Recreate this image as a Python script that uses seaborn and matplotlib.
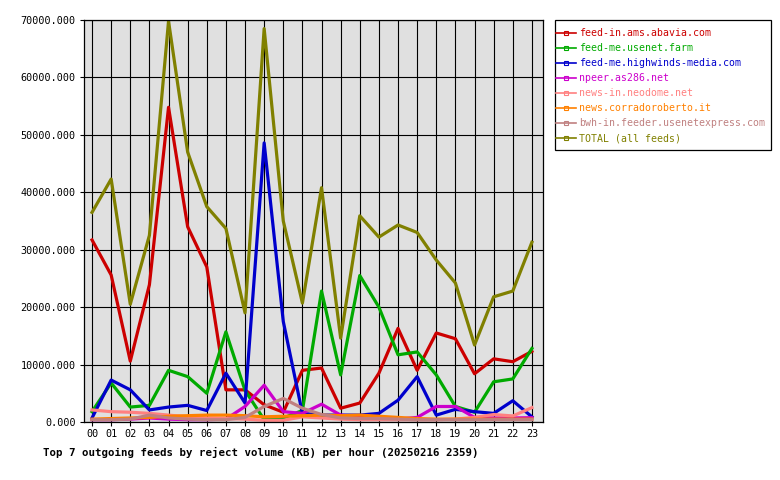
import matplotlib
matplotlib.use("Agg")
import matplotlib.pyplot as plt
from matplotlib.lines import Line2D
from matplotlib.patches import Rectangle
import pandas as pd
import seaborn as sns

# hourly reject volume (KB) per outgoing feed
hours = ["%02d" % h for h in range(24)]
feeds = ["feed-in.ams.abavia.com", "feed-me.usenet.farm", "feed-me.highwinds-media.com",
         "npeer.as286.net", "news-in.neodome.net", "news.corradoroberto.it",
         "bwh-in.feeder.usenetexpress.com", "TOTAL (all feeds)"]
colors = ["#cc0000", "#00aa00", "#0000cc", "#cc00cc", "#ff8080", "#ff8000", "#c08080", "#808000"]

abavia = [31700, 25600, 10600, 23900, 54800, 34000, 27000, 5600, 5600, 3000, 1700, 9000,
          9400, 2400, 3300, 8500, 16300, 9000, 15500, 14500, 8400, 11000, 10500, 12300]
usenet_farm = [1800, 6800, 2600, 2900, 9000, 7900, 5000, 15700, 5500, 400, 700, 2000,
               22800, 8200, 25500, 20000, 11700, 12200, 8200, 2700, 1700, 7000, 7500, 12800]
highwinds = [700, 7300, 5600, 2100, 2600, 2900, 2000, 8500, 3300, 48600, 17500, 1500,
             1200, 1200, 1200, 1500, 3800, 7900, 1200, 2200, 1800, 1500, 3700, 900]
npeer = [400, 400, 500, 700, 500, 400, 400, 500, 2700, 6400, 1800, 1500,
         3100, 1200, 900, 600, 500, 800, 2700, 2700, 800, 700, 700, 750]
neodome = [2100, 1800, 1700, 1500, 1200, 900, 700, 600, 500, 300, 300, 900,
           700, 500, 400, 400, 400, 400, 400, 500, 800, 1300, 1050, 2500]
corradoroberto = [500, 600, 700, 800, 1000, 1100, 1200, 1200, 1100, 900, 1000, 1100,
                  1200, 1100, 1200, 1000, 800, 600, 500, 500, 500, 500, 500, 500]
usenetexpress = [400, 400, 500, 1200, 700, 500, 400, 400, 800, 2700, 4100, 2400,
                 1300, 700, 600, 600, 500, 400, 400, 400, 400, 400, 400, 400]
total = [36500, 42300, 20500, 32500, 69800, 47000, 37500, 33700, 19000, 68500, 35000, 20700,
         40800, 14600, 35900, 32200, 34300, 33000, 28200, 24200, 13400, 21800, 22800, 31300]

series = [abavia, usenet_farm, highwinds, npeer, neodome, corradoroberto, usenetexpress, total]
rows = []
for name, vals in zip(feeds, series):
    for i, v in enumerate(vals):
        rows.append({"hour": i, "feed": name, "kb": v})
df = pd.DataFrame(rows)

plt.rcParams["font.family"] = ["DejaVu Sans Mono"]

fig = plt.figure(figsize=(7.8, 4.8), dpi=100)
ax = fig.add_axes([84 / 780, 58 / 480, 459 / 780, 402 / 480])
ax.set_facecolor("#e0e0e0")

sns.lineplot(data=df, x="hour", y="kb", hue="feed", hue_order=feeds,
             palette=colors, linewidth=2.3, legend=False, ax=ax)

ax.set_xlim(-0.42, 23.58)
ax.set_ylim(0, 70000)
ax.set_xticks(range(24))
ax.set_xticklabels(hours)
ax.set_yticks(range(0, 70001, 10000))
ax.set_yticklabels(["%.3f" % v for v in range(0, 70001, 10000)])
ax.tick_params(direction="out", length=3, width=0.8, colors="black", labelsize=7.3, pad=2)
ax.tick_params(axis="y", pad=3)
ax.grid(True, color="black", linewidth=0.8)
ax.set_axisbelow(True)
for s in ax.spines.values():
    s.set_color("black")
    s.set_linewidth(0.9)
ax.set_xlabel("")
ax.set_ylabel("")

# legend box drawn separately so the padding can be tight at the left
fig.patches.append(Rectangle((555 / 780, 330 / 480), 216 / 780, 130 / 480,
                             transform=fig.transFigure, facecolor="white",
                             edgecolor="black", linewidth=0.9, zorder=1))
handles = [Line2D([0], [0], color=c, linewidth=1.2, marker="s", markersize=2.5,
                  markerfacecolor="none", markeredgewidth=0.8) for c in colors]
leg = fig.legend(handles, feeds, loc="upper left", frameon=False,
                 bbox_to_anchor=(556 / 780, 1 - 28.5 / 480),
                 borderaxespad=0, borderpad=0,
                 fontsize=7.1, handlelength=2.05, handletextpad=0.3, labelspacing=0.5)
leg.set_zorder(2)
for t, c in zip(leg.get_texts(), colors):
    t.set_color(c)

fig.text(43 / 780, 1 - 452 / 480,
         "Top 7 outgoing feeds by reject volume (KB) per hour (20250216 2359)",
         fontsize=7.75, fontweight="bold", va="center", ha="left")

fig.savefig("out.png", dpi=100)
